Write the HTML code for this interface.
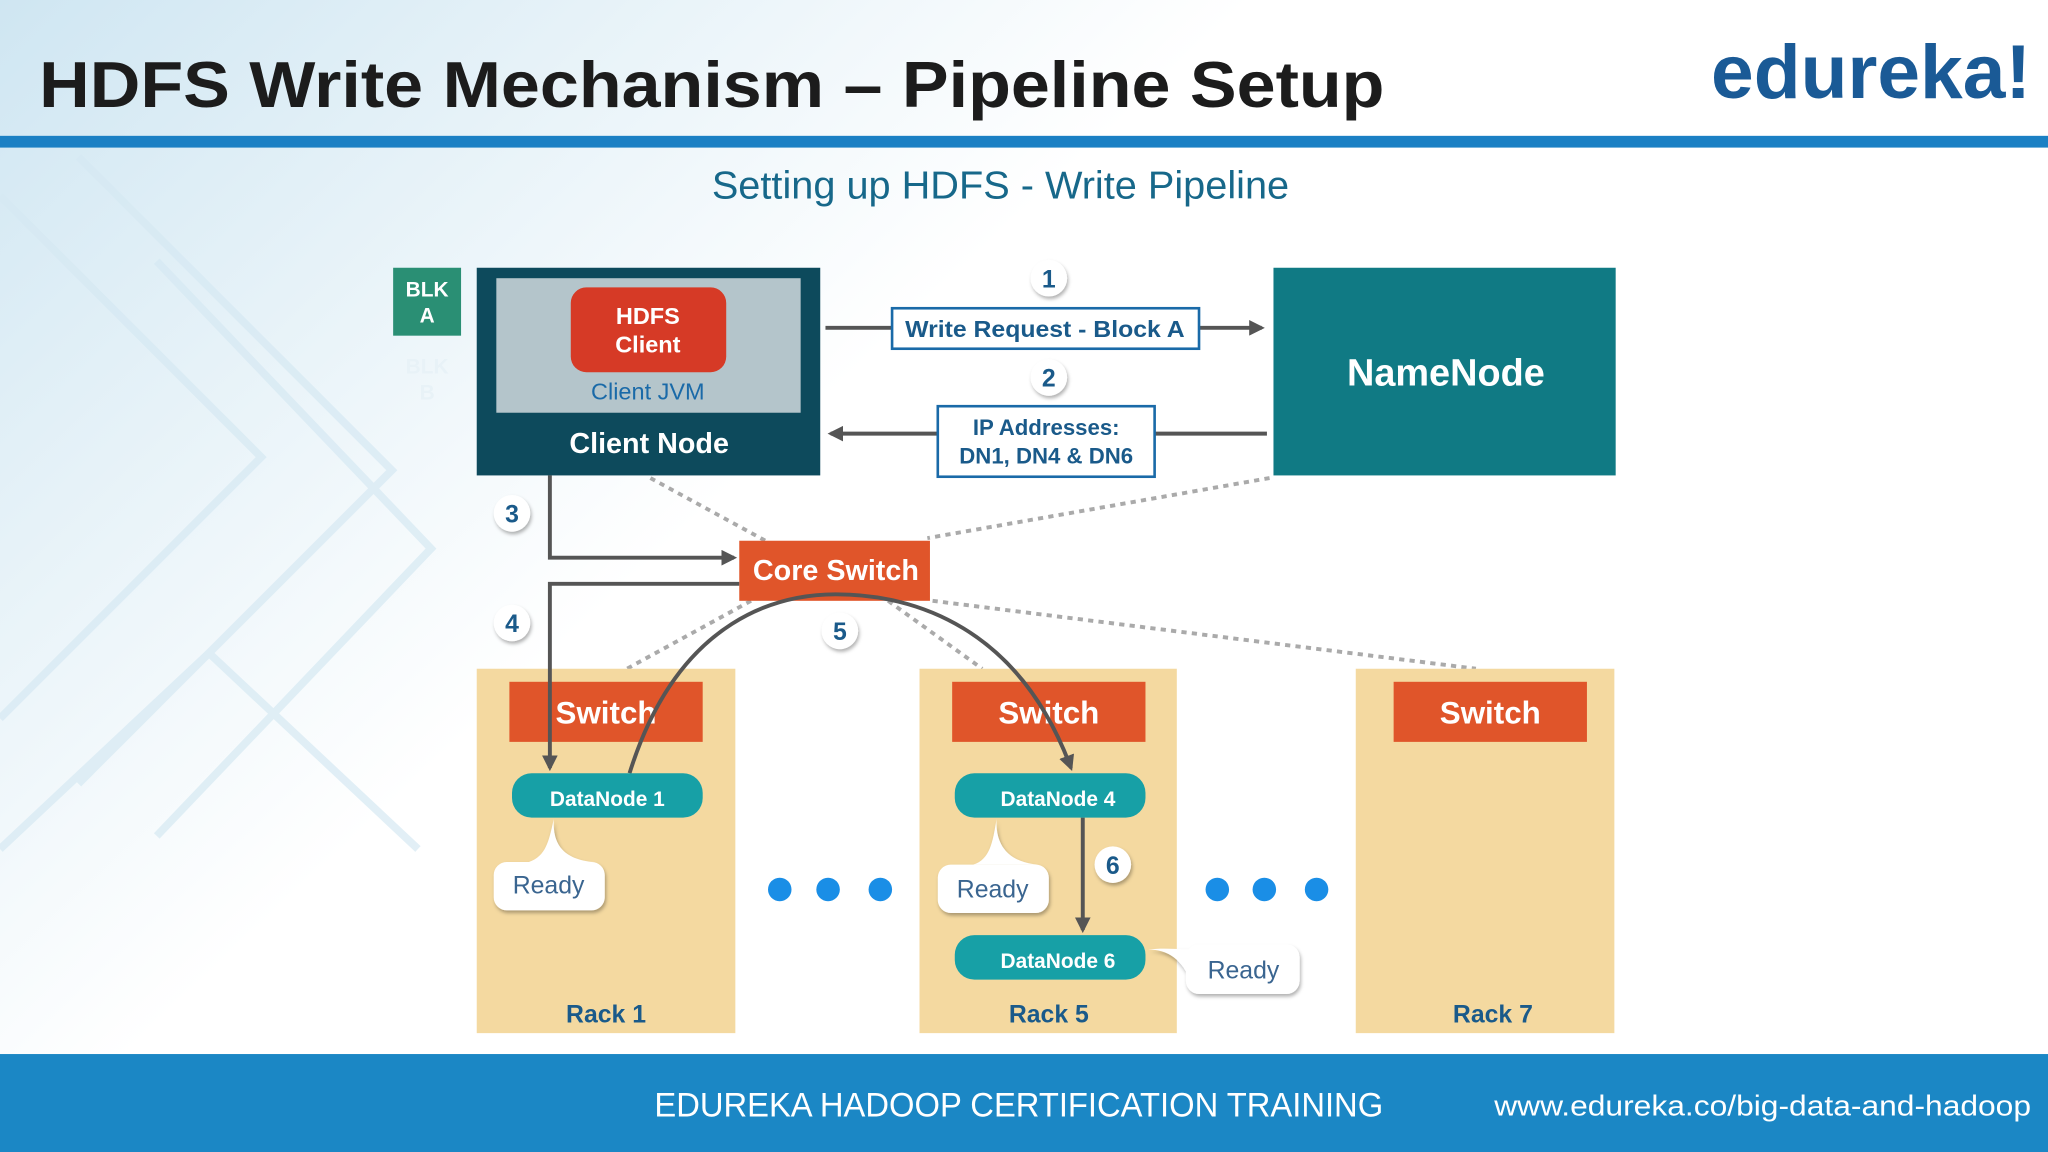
<!DOCTYPE html>
<html><head><meta charset="utf-8"><style>
html,body{margin:0;padding:0;width:2048px;height:1152px;overflow:hidden;background:#fff}
svg{display:block}
text{font-family:"Liberation Sans",sans-serif}
</style></head><body>
<svg width="2048" height="1152" viewBox="0 0 1568 882" xmlns="http://www.w3.org/2000/svg">
<defs>
<linearGradient id="bg" x1="0" y1="0" x2="1" y2="0.6">
<stop offset="0" stop-color="#cfe6f2"/><stop offset="0.25" stop-color="#eaf4f9"/><stop offset="0.45" stop-color="#ffffff"/>
</linearGradient>
<marker id="ah" viewBox="0 0 10 10" refX="8" refY="5" markerWidth="4" markerHeight="4" orient="auto"><path d="M0,0L10,5L0,10z" fill="#555"/></marker>
<filter id="sh" x="-30%" y="-30%" width="160%" height="160%"><feDropShadow dx="1" dy="2" stdDeviation="1.5" flood-color="#000" flood-opacity="0.3"/></filter>
</defs>
<rect width="1568" height="882" fill="url(#bg)"/>
<g stroke="#d6e9f3" stroke-width="6" fill="none" opacity="0.7">
<path d="M0,150 L200,350 L0,550"/><path d="M60,120 L300,360 L60,600"/><path d="M120,200 L330,420 L120,640"/>
<path d="M0,650 L160,500 L320,650"/>
</g>
<!-- title -->
<text x="30" y="82" font-size="50" font-weight="bold" fill="#1c1c1c" textLength="1030" lengthAdjust="spacingAndGlyphs">HDFS Write Mechanism – Pipeline Setup</text>
<text x="1310" y="75" font-size="58" font-weight="bold" fill="#1a5a96" textLength="245" lengthAdjust="spacingAndGlyphs">edureka!</text>
<rect x="0" y="104" width="1568" height="9" fill="#1b80c4"/>
<text x="766" y="152" font-size="30" fill="#17688a" text-anchor="middle" textLength="442" lengthAdjust="spacingAndGlyphs">Setting up HDFS - Write Pipeline</text>

<!-- BLK -->
<rect x="301" y="205" width="52" height="52" fill="#2a8f74"/>
<text x="327" y="227" font-size="16" font-weight="bold" fill="#fff" text-anchor="middle">BLK</text>
<text x="327" y="247" font-size="16" font-weight="bold" fill="#fff" text-anchor="middle">A</text>
<text x="327" y="286" font-size="16" font-weight="bold" fill="#e8f2f7" text-anchor="middle">BLK</text>
<text x="327" y="306" font-size="16" font-weight="bold" fill="#e8f2f7" text-anchor="middle">B</text>

<!-- client node -->
<rect x="365" y="205" width="263" height="159" fill="#0d4a5c"/>
<rect x="380" y="213" width="233" height="103" fill="#b4c5cb"/>
<rect x="437" y="220" width="119" height="65" rx="12" fill="#d63a26"/>
<text x="496" y="248" font-size="18" font-weight="bold" fill="#fff" text-anchor="middle">HDFS</text>
<text x="496" y="270" font-size="18" font-weight="bold" fill="#fff" text-anchor="middle">Client</text>
<text x="496" y="306" font-size="18" fill="#1a6aa8" text-anchor="middle">Client JVM</text>
<text x="497" y="347" font-size="22" font-weight="bold" fill="#fff" text-anchor="middle">Client Node</text>

<!-- namenode -->
<rect x="975" y="205" width="262" height="159" fill="#107a84"/>
<text x="1107" y="295" font-size="29" font-weight="bold" fill="#fff" text-anchor="middle">NameNode</text>

<!-- arrows 1,2 -->
<line x1="632" y1="251" x2="966" y2="251" stroke="#555" stroke-width="3" marker-end="url(#ah)"/>
<rect x="683" y="236" width="235" height="31" fill="#fff" stroke="#1a6aa8" stroke-width="2"/>
<text x="800" y="258" font-size="18" font-weight="bold" fill="#1a5a8a" text-anchor="middle" textLength="214" lengthAdjust="spacingAndGlyphs">Write Request - Block A</text>
<line x1="970" y1="332" x2="636" y2="332" stroke="#555" stroke-width="3" marker-end="url(#ah)"/>
<rect x="718" y="311" width="166" height="54" fill="#fff" stroke="#1a6aa8" stroke-width="2"/>
<text x="801" y="333" font-size="17" font-weight="bold" fill="#1a5a8a" text-anchor="middle">IP Addresses:</text>
<text x="801" y="355" font-size="17" font-weight="bold" fill="#1a5a8a" text-anchor="middle">DN1, DN4 &amp; DN6</text>

<!-- dashed lines -->
<g stroke="#aaa" stroke-width="3" stroke-dasharray="4,4" fill="none">
<line x1="498" y1="366" x2="586" y2="414"/>
<line x1="972" y1="366" x2="710" y2="412"/>
<line x1="714" y1="460" x2="1130" y2="512"/>
<line x1="575" y1="460" x2="480" y2="512"/>
<line x1="680" y1="460" x2="752" y2="512"/>
</g>

<!-- core switch -->
<rect x="566" y="414" width="146" height="46" fill="#e0552a"/>
<text x="640" y="444" font-size="22" font-weight="bold" fill="#fff" text-anchor="middle">Core Switch</text>
<polyline points="421,364 421,427 562,427" fill="none" stroke="#555" stroke-width="3" marker-end="url(#ah)"/>

<!-- racks -->
<rect x="365" y="512" width="198" height="279" fill="#f4d9a0"/>
<rect x="704" y="512" width="197" height="279" fill="#f4d9a0"/>
<rect x="1038" y="512" width="198" height="279" fill="#f4d9a0"/>
<rect x="390" y="522" width="148" height="46" fill="#e0552a"/>
<rect x="729" y="522" width="148" height="46" fill="#e0552a"/>
<rect x="1067" y="522" width="148" height="46" fill="#e0552a"/>
<text x="464" y="554" font-size="24" font-weight="bold" fill="#fff" text-anchor="middle">Switch</text>
<text x="803" y="554" font-size="24" font-weight="bold" fill="#fff" text-anchor="middle">Switch</text>
<text x="1141" y="554" font-size="24" font-weight="bold" fill="#fff" text-anchor="middle">Switch</text>
<text x="464" y="783" font-size="19" font-weight="bold" fill="#1a5a8a" text-anchor="middle">Rack 1</text>
<text x="803" y="783" font-size="19" font-weight="bold" fill="#1a5a8a" text-anchor="middle">Rack 5</text>
<text x="1143" y="783" font-size="19" font-weight="bold" fill="#1a5a8a" text-anchor="middle">Rack 7</text>

<!-- connectors 4,5,6 -->
<polyline points="566,447 421,447 421,588" fill="none" stroke="#555" stroke-width="3" marker-end="url(#ah)"/>
<path d="M482,592 C520,470 600,455 640,455 C700,455 780,480 820,588" fill="none" stroke="#555" stroke-width="3" marker-end="url(#ah)"/>
<line x1="829" y1="626" x2="829" y2="712" stroke="#555" stroke-width="3" marker-end="url(#ah)"/>

<!-- datanodes -->
<rect x="392" y="592" width="146" height="34" rx="15" fill="#17a0a6"/>
<rect x="731" y="592" width="146" height="34" rx="15" fill="#17a0a6"/>
<rect x="731" y="716" width="146" height="34" rx="15" fill="#17a0a6"/>
<text x="465" y="617" font-size="16" font-weight="bold" fill="#fff" text-anchor="middle">DataNode 1</text>
<text x="810" y="617" font-size="16" font-weight="bold" fill="#fff" text-anchor="middle">DataNode 4</text>
<text x="810" y="741" font-size="16" font-weight="bold" fill="#fff" text-anchor="middle">DataNode 6</text>

<!-- ready bubbles -->
<g filter="url(#sh)" fill="#fff">
<path d="M424,627 C420,645 418,655 405,660 L455,660 C430,658 423,645 424,627z"/>
<rect x="378" y="660" width="85" height="37" rx="10"/>
<path d="M763,627 C760,645 758,658 745,662 L795,662 C770,660 762,645 763,627z"/>
<rect x="718" y="662" width="85" height="37" rx="10"/>
<path d="M879,727 C895,727 905,735 912,752 L920,726 C905,728 895,725 879,727z"/>
<rect x="908" y="723" width="87" height="38" rx="10"/>
</g>
<text x="420" y="684" font-size="19" fill="#3a6590" text-anchor="middle">Ready</text>
<text x="760" y="687" font-size="19" fill="#3a6590" text-anchor="middle">Ready</text>
<text x="952" y="749" font-size="19" fill="#3a6590" text-anchor="middle">Ready</text>

<!-- dots -->
<g fill="#1a8ee6">
<circle cx="597" cy="681" r="9"/><circle cx="634" cy="681" r="9"/><circle cx="674" cy="681" r="9"/>
<circle cx="932" cy="681" r="9"/><circle cx="968" cy="681" r="9"/><circle cx="1008" cy="681" r="9"/>
</g>

<!-- step circles -->
<g filter="url(#sh)" fill="#fff">
<circle cx="803" cy="213" r="14"/><circle cx="803" cy="289" r="14"/>
<circle cx="392" cy="393" r="14"/><circle cx="392" cy="477" r="14"/>
<circle cx="643" cy="483" r="14"/><circle cx="852" cy="662" r="14"/>
</g>
<g font-size="19" font-weight="bold" fill="#1a5a8a" text-anchor="middle">
<text x="803" y="220">1</text><text x="803" y="296">2</text>
<text x="392" y="400">3</text><text x="392" y="484">4</text>
<text x="643" y="490">5</text><text x="852" y="669">6</text>
</g>

<!-- footer -->
<rect x="0" y="807" width="1568" height="75" fill="#1b87c5"/>
<text x="501" y="855" font-size="26" fill="#fff" textLength="558" lengthAdjust="spacingAndGlyphs">EDUREKA HADOOP CERTIFICATION TRAINING</text>
<text x="1144" y="854" font-size="22" fill="#fff" textLength="411" lengthAdjust="spacingAndGlyphs">www.edureka.co/big-data-and-hadoop</text>
</svg>
</body></html>
